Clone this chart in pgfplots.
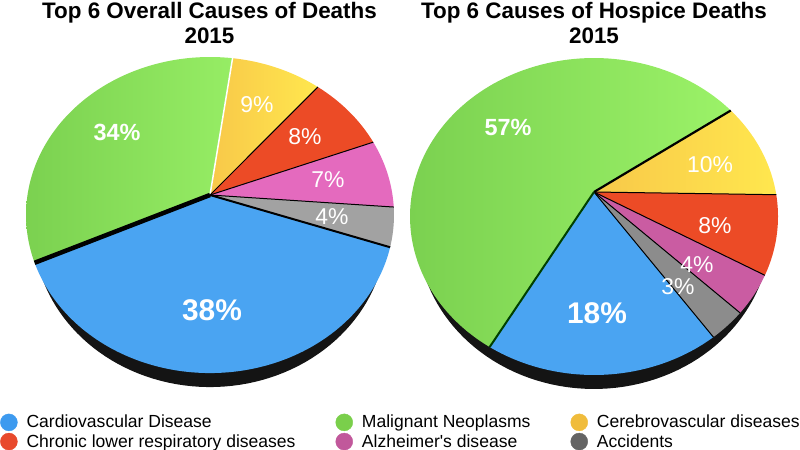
\documentclass[border=0pt]{standalone}
\usepackage{fontspec}
\setmainfont{Liberation Sans}
\newfontfamily\plainfont{Liberation Sans}
\usepackage{pgfplots}
\pgfplotsset{compat=1.18}
\definecolor{cBlue}{HTML}{4AA4F2}
\definecolor{cGreenL}{HTML}{7BD150}
\definecolor{cGreenR}{HTML}{9BF268}
\definecolor{cYellowL}{HTML}{F8C849}
\definecolor{cYellowR}{HTML}{FFE74E}
\definecolor{cRed}{HTML}{EC4B26}
\definecolor{cPink}{HTML}{E46ABE}
\definecolor{cPinkB}{HTML}{CA5CA2}
\definecolor{cGray}{HTML}{A2A2A2}
\definecolor{cGrayB}{HTML}{8C8C8C}
\definecolor{lBlue}{HTML}{3D9AEF}
\definecolor{lGreen}{HTML}{7ACF4B}
\definecolor{lYellow}{HTML}{F0BC3C}
\definecolor{lRed}{HTML}{E84A2D}
\definecolor{lPink}{HTML}{C1589B}
\definecolor{lGray}{HTML}{646464}
% pie seen in perspective: centre (#1,#2), radii #3,#4, tilt #5
% slice: #6 start angle (deg), #7 percent, #8 fill style
\newcommand{\slice}[8]{%
  \addplot[forget plot, draw=none, #8, domain=#6-3.6*#7:#6, samples=100, variable=\t]
    ({#1+#3*cos(\t)/(1+#5*sin(\t))},{#2+#4*sin(\t)/(1+#5*sin(\t))}) -- (axis cs:#1,#2) -- cycle;}
\newcommand{\radial}[7]{%
  \addplot[forget plot, #7, domain=0:1, samples=2, variable=\t]
    ({#1+\t*#3*cos(#6)/(1+#5*sin(#6))},{#2+\t*#4*sin(#6)/(1+#5*sin(#6))});}
\newcommand{\shadow}[5]{%
  \addplot[forget plot, fill=black!92, draw=none, domain=0:360, samples=160, variable=\t]
    ({#1+0.96*#3*cos(\t)/(1+#5*sin(\t))},{#2-14+#4*sin(\t)/(1+#5*sin(\t))});}
\newcommand{\lslice}[3]{\slice{210}{255}{182.5}{155.5}{0.1268}{#1}{#2}{#3}}
\newcommand{\lrad}[2]{\radial{210}{255}{182.5}{155.5}{0.1268}{#1}{#2}}
\newcommand{\rslice}[3]{\slice{594}{258}{181.8}{154.7}{0.1546}{#1}{#2}{#3}}
\newcommand{\rrad}[2]{\radial{594}{258}{181.8}{154.7}{0.1546}{#1}{#2}}
\begin{document}
\begin{tikzpicture}
\path[use as bounding box] (0,0) rectangle (800bp,450bp);
\tikzset{ttl/.style={anchor=base, font=\fontsize{22.5}{26}\selectfont\bfseries},
  big/.style={text=white, font=\fontsize{30}{32}\selectfont\bfseries},
  mid/.style={text=white, font=\fontsize{23.5}{26}\selectfont\bfseries},
  sml/.style={text=white, font=\fontsize{23}{26}\selectfont}}
\node[ttl] at (209.5bp,431bp) {Top 6 Overall Causes of Deaths};
\node[ttl] at (209.5bp,406bp) {2015};
\node[ttl] at (594bp,431bp) {Top 6 Causes of Hospice Deaths};
\node[ttl] at (594bp,406bp) {2015};
\begin{axis}[at={(0bp,0bp)}, anchor=south west, scale only axis,
  width=800bp, height=450bp, xmin=0, xmax=800, ymin=0, ymax=450,
  hide axis, clip=false,
  legend columns=3, legend cell align=left,
  legend style={at={(0,0.082)}, anchor=north west, draw=none, fill=none,
    inner sep=0pt, row sep=1bp, font=\fontsize{17.6}{20}\selectfont,
    /tikz/every odd column/.append style={column sep=7bp},
    /tikz/every even column/.append style={column sep=38bp}}]
% ---------------- left pie
\shadow{210}{255}{182.5}{155.5}{0.1268}
\lslice{82}{9}{left color=cYellowL, right color=cYellowR}
\lslice{49.6}{8}{fill=cRed}
\lslice{20.8}{7}{fill=cPink}
\lslice{-4.4}{4}{fill=cGray}
\lslice{-18.8}{38}{fill=cBlue}
\lslice{-155.6}{34}{left color=cGreenL, right color=cGreenR!85!cGreenL}
\lrad{82}{white, line width=1.5bp}
\lrad{49.6}{black, line width=1bp}
\lrad{20.8}{black, line width=1bp}
\lrad{-4.4}{black, line width=1bp}
\lrad{-18.8}{black, line width=2bp}
\lrad{-155.6}{black, line width=4.5bp}
% ---------------- right pie
\shadow{594}{258}{181.8}{154.7}{0.1546}
\rslice{35}{10}{left color=cYellowL, right color=cYellowR}
\rslice{-1}{8}{fill=cRed}
\rslice{-29.8}{4}{fill=cPinkB}
\rslice{-44.2}{3}{fill=cGrayB}
\rslice{-55}{18}{fill=cBlue}
\rslice{-119.8}{57}{left color=cGreenL, right color=cGreenR}
\rrad{35}{black, line width=2.2bp}
\rrad{-1}{black, line width=1bp}
\rrad{-29.8}{black, line width=1bp}
\rrad{-44.2}{black, line width=1bp}
\rrad{-55}{black, line width=1bp}
\rrad{-119.8}{black!75!green, line width=2bp}
% ---------------- legend
\addlegendimage{legend image code/.code={\fill[lBlue] (0bp,0bp) circle (8.5bp);}}
\addlegendentry{Cardiovascular Disease}
\addlegendimage{legend image code/.code={\fill[lGreen] (0bp,0bp) circle (8.5bp);}}
\addlegendentry{Malignant Neoplasms}
\addlegendimage{legend image code/.code={\fill[lYellow] (0bp,0bp) circle (8.5bp);}}
\addlegendentry{Cerebrovascular diseases}
\addlegendimage{legend image code/.code={\fill[lRed] (0bp,0bp) circle (8.5bp);}}
\addlegendentry{Chronic lower respiratory diseases}
\addlegendimage{legend image code/.code={\fill[lPink] (0bp,0bp) circle (8.5bp);}}
\addlegendentry{Alzheimer{\plainfont '}s disease}
\addlegendimage{legend image code/.code={\fill[lGray] (0bp,0bp) circle (8.5bp);}}
\addlegendentry{Accidents}
\end{axis}
% ---------------- percentage labels
\node[mid] at (117bp,318bp) {34\%};
\node[big] at (212bp,140bp) {38\%};
\node[sml] at (257bp,345bp) {9\%};
\node[sml] at (305bp,313bp) {8\%};
\node[sml] at (328bp,270bp) {7\%};
\node[sml] at (332bp,233bp) {4\%};
\node[mid] at (508bp,323bp) {57\%};
\node[sml] at (710bp,285bp) {10\%};
\node[sml] at (715bp,224bp) {8\%};
\node[sml] at (697bp,185bp) {4\%};
\node[sml] at (678bp,163bp) {3\%};
\node[big] at (597bp,137bp) {18\%};
\end{tikzpicture}
\end{document}
